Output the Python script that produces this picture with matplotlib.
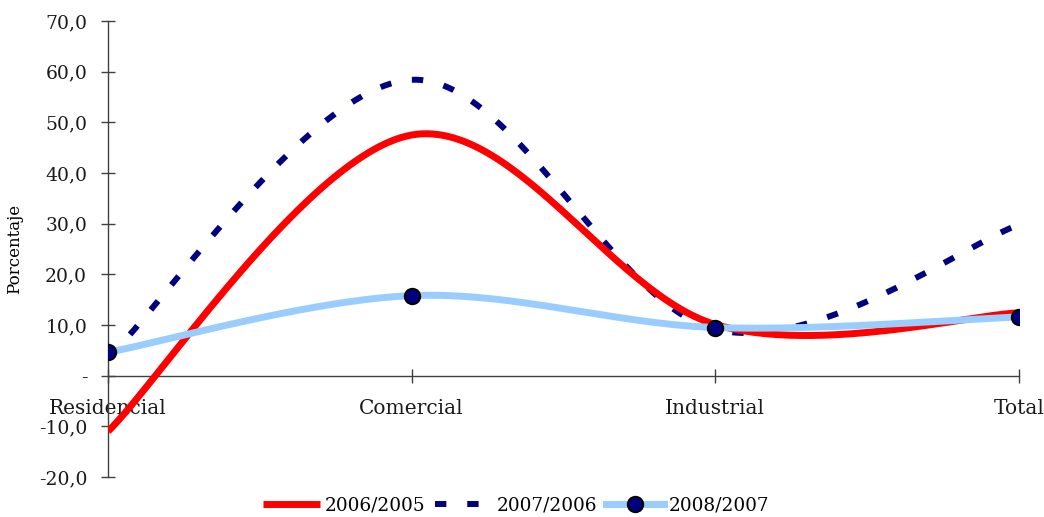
import numpy as np
import matplotlib
matplotlib.use("Agg")
import matplotlib.pyplot as plt
from matplotlib.ticker import FuncFormatter
from matplotlib.lines import Line2D

categories = ["Residencial", "Comercial", "Industrial", "Total"]
s_2006_2005 = [-11.0, 47.5, 10.1, 12.4]
s_2007_2006 = [3.5, 58.4, 9.1, 29.8]
s_2008_2007 = [4.6, 15.8, 9.5, 11.6]
series_names = ["2006/2005", "2007/2006", "2008/2007"]
yticks = [-20, -10, 0, 10, 20, 30, 40, 50, 60, 70]


def smooth(y, n=60):
    """Excel-like smoothed line: cubic Bezier segments with Catmull-Rom tangents."""
    x = np.arange(len(y), dtype=float)
    y = np.asarray(y, dtype=float)
    P = np.column_stack([x, y])
    out = []
    for i in range(len(P) - 1):
        p0 = P[i - 1] if i > 0 else P[i]
        p1 = P[i]
        p2 = P[i + 1]
        p3 = P[i + 2] if i + 2 < len(P) else P[i + 1]
        c1 = p1 + (p2 - p0) / 6.0
        c2 = p2 - (p3 - p1) / 6.0
        t = np.linspace(0, 1, n)[:, None]
        seg = ((1 - t) ** 3) * p1 + 3 * ((1 - t) ** 2) * t * c1 + 3 * (1 - t) * t ** 2 * c2 + t ** 3 * p2
        out.append(seg if i == 0 else seg[1:])
    pts = np.vstack(out)
    return pts[:, 0], pts[:, 1]


plt.rcParams['font.family'] = ['DejaVu Serif']
fig = plt.figure(figsize=(10.44, 5.17), dpi=100)
ax = fig.add_axes([108 / 1044, 1 - 477 / 517, (1019 - 108) / 1044, (477 - 21) / 517])

xr, yr = smooth(s_2006_2005)
l1, = ax.plot(xr, yr, color="#FF0000", lw=5, solid_capstyle="butt", zorder=3)
xb, yb = smooth(s_2007_2006)
l2, = ax.plot(xb, yb, color="#000080", lw=4.3, linestyle=(0, (1.9, 3.5)),
              dash_capstyle="butt", zorder=2)
xl, yl = smooth(s_2008_2007)
l3, = ax.plot(xl, yl, color="#99CCFF", lw=5, solid_capstyle="butt", zorder=4)
ax.plot(np.arange(len(s_2008_2007)), s_2008_2007, linestyle="none", marker="o",
        markersize=11, markerfacecolor="#000080", markeredgecolor="black",
        markeredgewidth=1.5, zorder=5)

ax.set_xlim(0, len(categories) - 1)
ax.set_ylim(-20, 70)
ax.set_yticks(yticks)
ax.yaxis.set_major_formatter(FuncFormatter(lambda v, p: "-" if v == 0 else f"{v:.1f}".replace(".", ",")))
ax.set_xticks(np.arange(len(categories)))
ax.set_xticklabels(categories)

for s in ["top", "right"]:
    ax.spines[s].set_visible(False)
ax.spines["bottom"].set_position(("data", 0))
for s in ["left", "bottom"]:
    ax.spines[s].set_color("#404040")
    ax.spines[s].set_linewidth(1.0)
ax.tick_params(axis="both", direction="inout", length=10, width=1.0, color="#404040",
               labelcolor="#1a1a1a")
ax.tick_params(axis="y", pad=10, labelsize=13.5)
ax.tick_params(axis="x", pad=12, labelsize=14.5)
ax.set_ylabel("Porcentaje", fontsize=12)
ax.yaxis.set_label_coords(-0.093, 0.5)

h3 = Line2D([], [], color="#99CCFF", lw=5, marker="o", markersize=11,
            markerfacecolor="#000080", markeredgecolor="black", markeredgewidth=1.5)
fig.legend([l1, l2, h3], series_names, loc="center", ncol=3, frameon=False,
           bbox_to_anchor=(516 / 1044, 1 - 505 / 517), fontsize=13.3,
           handlelength=3.1, handletextpad=0.25, columnspacing=0.5)

fig.savefig("out.png", dpi=100)
